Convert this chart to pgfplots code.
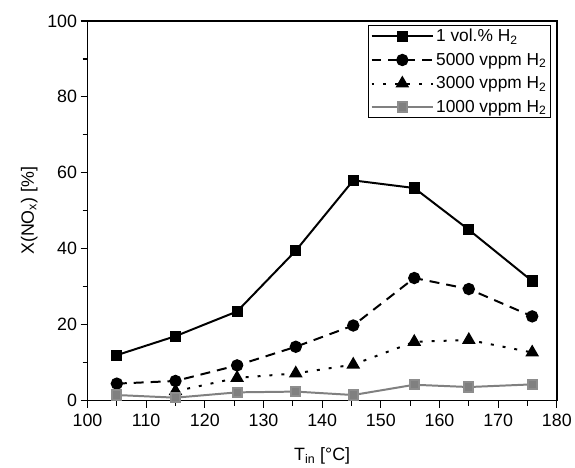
\documentclass[border=0pt]{standalone}
\usepackage{fontspec}
\setmainfont{Liberation Sans}
\usepackage{pgfplots}
\pgfplotsset{compat=1.18}
\usetikzlibrary{calc}
\definecolor{grayline}{HTML}{808080}

\begin{document}
\begin{tikzpicture}
\begin{axis}[
  scale only axis, width=472bp, height=382bp,
  xmin=100, xmax=180, ymin=0, ymax=100,
  xtick={100,110,...,180}, ytick={0,20,...,100},
  minor x tick num=1, minor y tick num=1,
  axis line style={line width=1.5bp},
  tick style={line width=1.3bp, black},
  tick align=outside, tick pos=left,
  major tick length=7bp, minor tick length=5bp,
  font=\fontsize{18}{21}\selectfont,
  /pgf/number format/assume math mode=true,
  xticklabel style={yshift=-3bp},
  xlabel={T\textsubscript{in} [°C]}, ylabel={X(NO\textsubscript{x}) [\%]},
  xlabel style={yshift=-14bp},
  ylabel style={yshift=3bp},
  legend cell align=left,
  legend style={at={(1,1)}, xshift=-6bp, yshift=-4bp, anchor=north east, draw=black, line width=0.8bp,
    font=\fontsize{17.5}{20}\selectfont, row sep=6bp, inner sep=2bp},
  legend image code/.code={
    \draw[#1,mark repeat=2,mark phase=2] plot coordinates {(0bp,0bp) (31bp,0bp) (62bp,0bp)};},
]
\addplot[black, line width=2bp, mark=square*, mark size=4.6bp, mark options={solid}]
  coordinates {(105,12) (115,17) (125.5,23.5) (135.5,39.5) (145.3,58) (155.7,56) (165,45) (175.8,31.5)};
\addplot[black, line width=2bp, dash pattern=on 10bp off 7bp, mark=*, mark size=5.2bp, mark options={solid}]
  coordinates {(105,4.5) (115,5.2) (125.5,9.3) (135.5,14.2) (145.3,19.8) (155.7,32.3) (165,29.4) (175.8,22.2)};
\addplot[black, line width=2bp, dash pattern=on 3bp off 9bp, mark=triangle*, mark size=6bp, mark options={solid}]
  coordinates {(115,2.5) (125.5,6) (135.5,7.2) (145.3,9.5) (155.7,15.5) (165,16) (175.8,12.7)};
\addplot[grayline, line width=2bp, mark=square*, mark size=4.6bp, mark options={solid, draw=grayline!90}]
  coordinates {(105,1.5) (115,0.8) (125.5,2.2) (135.5,2.4) (145.3,1.5) (155.7,4.2) (165,3.6) (175.8,4.3)};
\legend{1 vol.\% H\textsubscript{2}, 5000 vppm H\textsubscript{2}, 3000 vppm H\textsubscript{2}, 1000 vppm H\textsubscript{2}}
\end{axis}
\path[use as bounding box] ($(current axis.south west)+(-88bp,-64bp)$) rectangle ($(current axis.north east)+(15bp,21bp)$);
\end{tikzpicture}
\end{document}
